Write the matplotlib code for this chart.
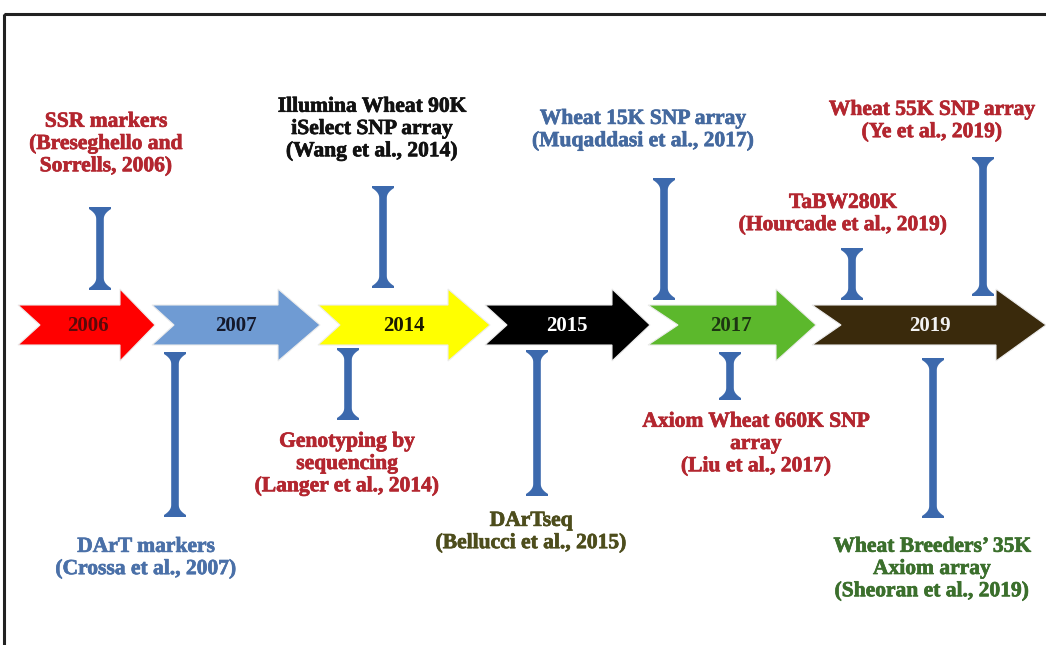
import matplotlib
matplotlib.use("Agg")
import matplotlib.pyplot as plt
from matplotlib.patches import Polygon, Rectangle
import matplotlib.patheffects as pe
import numpy as np

# ---------------- data ----------------
years = ["2006", "2007", "2014", "2015", "2017", "2019"]
arrow_colors = ["#ff0000", "#6f9bd3", "#ffff00", "#000000", "#5cb82c", "#3a2a0c"]
year_text_colors = ["#5a0a0a", "#14182a", "#1a1a00", "#ffffff", "#1d3612", "#f2f2f2"]

event_labels = [
    "SSR markers\n(Breseghello and\nSorrells, 2006)",
    "DArT markers\n(Crossa et al., 2007)",
    "Illumina Wheat 90K\niSelect SNP array\n(Wang et al., 2014)",
    "Genotyping by\nsequencing\n(Langer et al., 2014)",
    "DArTseq\n(Bellucci et al., 2015)",
    "Wheat 15K SNP array\n(Muqaddasi et al., 2017)",
    "Axiom Wheat 660K SNP\narray\n(Liu et al., 2017)",
    "TaBW280K\n(Hourcade et al., 2019)",
    "Wheat 55K SNP array\n(Ye et al., 2019)",
    "Wheat Breeders\u2019 35K\nAxiom array\n(Sheoran et al., 2019)",
]
event_colors = ["#b3262f", "#4a70a8", "#111111", "#b3262f", "#4d4d1c",
                "#44699f", "#b3262f", "#b3262f", "#b3262f", "#3b6f2c"]

# ---------------- layout (pixel coords) ----------------
W, H = 1046, 645
CY = 325
# tail, notch, head-base, tip
arrow_x = [(18, 40, 120, 155), (152, 174, 278, 320), (318, 340, 448, 490),
           (485, 507, 612, 650), (648, 678, 776, 816), (812, 841, 996, 1046)]
year_x = [88, 236, 404, 567, 731, 930]
body_h, head_h = 20, 36

# pins: center x, top y, bottom y
pins = [(100, 207, 290), (175, 352, 517), (383, 186, 288), (348, 348, 420),
        (537, 350, 496), (664, 178, 300), (730, 352, 400), (852, 248, 300),
        (983, 157, 296), (933, 358, 518)]
# label centers
label_pos = [(106, 144), (146, 558), (372, 129), (347, 464), (531, 532),
             (643, 130), (756, 444), (843, 214), (932, 121), (932, 569)]

fig = plt.figure(figsize=(W / 100, H / 100), dpi=100)
ax = fig.add_axes([0, 0, 1, 1])
ax.set_xlim(0, W)
ax.set_ylim(H, 0)
ax.axis("off")

# frame
ax.add_patch(Rectangle((4, 14), W + 20, H + 20, fill=False, edgecolor="#222222", lw=2.2))

# arrows
for (t, n, hb, tip), col, yr, yx, tc in zip(arrow_x, arrow_colors, years, year_x, year_text_colors):
    pts = [(t, CY - body_h), (hb, CY - body_h), (hb, CY - head_h), (tip, CY),
           (hb, CY + head_h), (hb, CY + body_h), (t, CY + body_h), (n, CY)]
    ax.add_patch(Polygon(pts, closed=True, facecolor=col, edgecolor="#ececec", lw=0.8, zorder=2))
    ax.text(yx, CY + 1, yr, ha="center", va="center", fontsize=15, fontweight="bold",
            family="Liberation Serif", color=tc, zorder=3)

# pins (I-beam with flared ends)
def pin(cx, top, bot, color="#3c69ad"):
    cap_w, shaft_w, flare = 11, 3.8, 10
    s = np.linspace(0, 1, 8)
    prof = shaft_w + (cap_w - shaft_w) * (1 - s) ** 2.2
    ys_top = top + 2 + s * flare
    ys_bot = bot - 2 - s * flare
    right = [(cx + cap_w, top)] + [(cx + p, y) for p, y in zip(prof, ys_top)] + \
            [(cx + p, y) for p, y in zip(prof[::-1], ys_bot[::-1])] + [(cx + cap_w, bot)]
    left = [(cx - cap_w, bot)] + [(cx - p, y) for p, y in zip(prof, ys_bot)] + \
           [(cx - p, y) for p, y in zip(prof[::-1], ys_top[::-1])] + [(cx - cap_w, top)]
    ax.add_patch(Polygon(right + left, closed=True, facecolor=color, edgecolor="none", zorder=4))

for cx, top, bot in pins:
    pin(cx, top, bot)

for lab, (lx, ly), col in zip(event_labels, label_pos, event_colors):
    ax.text(lx, ly, lab, ha="center", va="center", multialignment="center",
            fontsize=15.5, fontweight="bold", family="Liberation Serif", color=col,
            linespacing=1.15, zorder=5,
            path_effects=[pe.withStroke(linewidth=0.5, foreground=col)])

fig.savefig("out.png", dpi=100, facecolor="white")
